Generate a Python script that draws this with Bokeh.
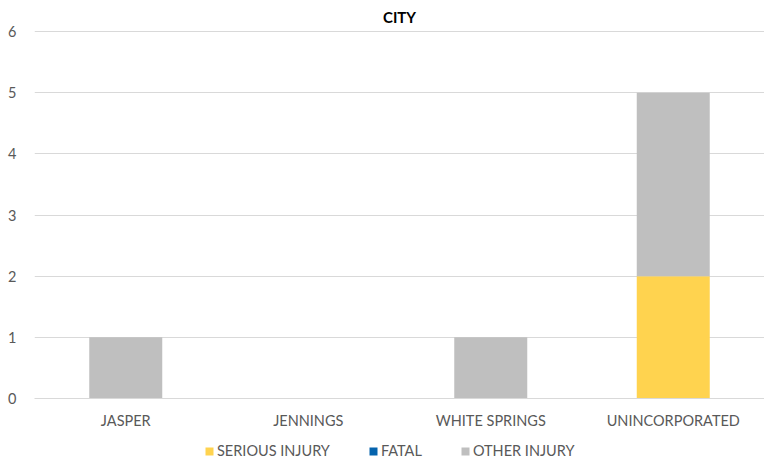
from bokeh.plotting import figure
from bokeh.layouts import column
from bokeh.models import FactorRange, Range1d, Legend, LegendItem, Title, ColumnDataSource
from bokeh.embed import file_html
from bokeh.resources import INLINE

cities = ["JASPER", "JENNINGS", "WHITE SPRINGS", "UNINCORPORATED"]
serious_injury = [0, 0, 0, 2]
fatal = [0, 0, 0, 0]
other_injury = [1, 0, 1, 3]
series = ["SERIOUS INJURY", "FATAL", "OTHER INJURY"]
colors = ["#FFD34F", "#0563AD", "#BFBFBF"]
y_ticks = [0, 1, 2, 3, 4, 5, 6]

data = {"city": cities, "SERIOUS INJURY": serious_injury, "FATAL": fatal, "OTHER INJURY": other_injury}

FONT = "Lato"
TEXT = "#595959"
GRID = "#D9D9D9"

p = figure(x_range=FactorRange(*cities, range_padding=0), y_range=Range1d(0, 6.02),
           width=764, height=431, output_backend="svg",
           toolbar_location=None, min_border_left=34, min_border_right=0,
           min_border_top=0, min_border_bottom=30, outline_line_color=None)

p.title = Title(text="CITY", align="center", text_font=FONT, text_font_size="15px",
                text_font_style="bold", text_color="#000000")
p.title.offset = 0

p.vbar_stack(series, x="city", width=0.4, color=colors, line_color=None, source=data)

p.yaxis.ticker = y_ticks
p.yaxis.axis_line_color = None
p.yaxis.major_tick_line_color = None
p.yaxis.minor_tick_line_color = None
p.yaxis.major_label_standoff = 12
p.xaxis.axis_line_color = GRID
p.xaxis.major_tick_line_color = None
p.xaxis.minor_tick_line_color = None
p.xaxis.major_label_standoff = 7
for ax in (p.xaxis, p.yaxis):
    ax.major_label_text_font = FONT
    ax.major_label_text_font_size = "14.5px"
    ax.major_label_text_color = TEXT

p.xgrid.grid_line_color = None
p.ygrid.grid_line_color = GRID
p.ygrid.grid_line_width = 1

# separate strip for the legend below the chart; it reuses the same data,
# stacked the same way, with hidden bars so only the legend shows
lf = figure(x_range=FactorRange(*cities, range_padding=0), y_range=Range1d(0, 6),
            width=764, height=28, output_backend="svg", toolbar_location=None,
            min_border=0, outline_line_color=None)
lf.axis.visible = False
lf.grid.grid_line_color = None
swatches = lf.vbar_stack(series, x="city", width=0.4, color=colors, line_color=None,
                         source=ColumnDataSource(data))
for r in swatches:
    r.visible = False
legend = Legend(items=[LegendItem(label=s, renderers=[r]) for s, r in zip(series, swatches)],
                orientation="horizontal", location=(170, 0), click_policy="none",
                label_text_font=FONT, label_text_font_size="14.5px", label_text_color=TEXT,
                glyph_width=10, glyph_height=10, spacing=38, label_standoff=3,
                label_height=14, border_line_color=None, background_fill_alpha=0,
                padding=2, margin=0)
lf.add_layout(legend, "center")

open("out.html", "w").write(file_html(column(p, lf, spacing=0), INLINE))
